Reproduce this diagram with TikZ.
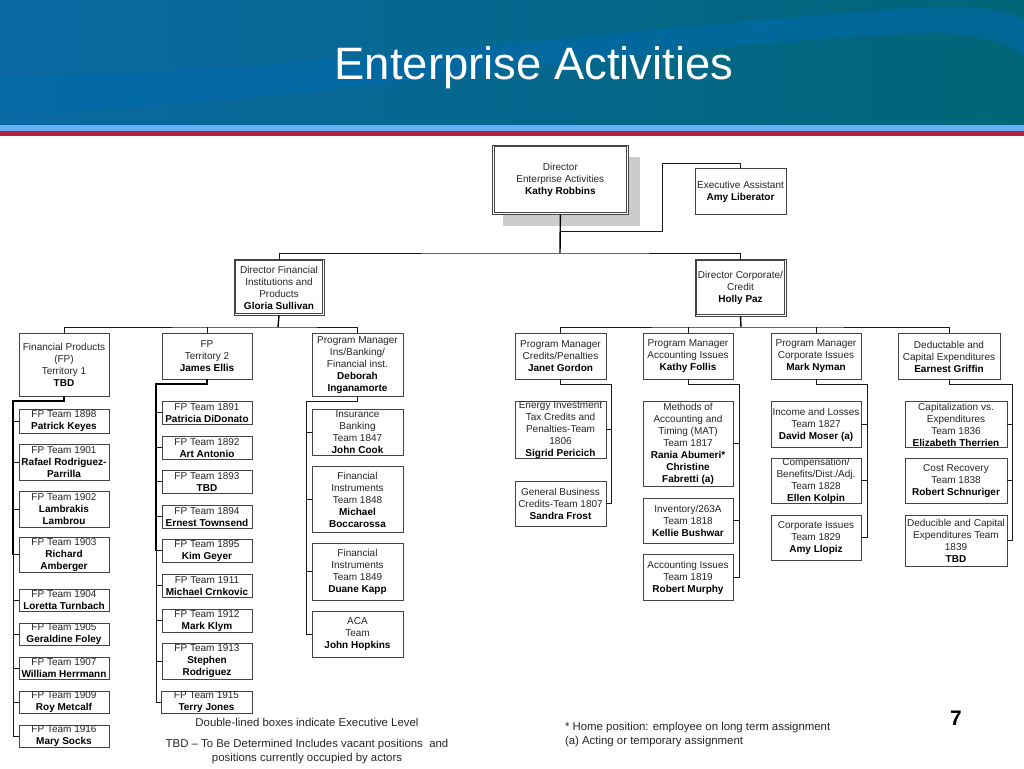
\documentclass[tikz,border=0pt]{standalone}
\usepackage{fontspec}
\setmainfont{Liberation Sans}
\definecolor{swoosh}{HTML}{0069AB}
\definecolor{bandl}{HTML}{0A69A3}
\definecolor{bandr}{HTML}{006677}
\definecolor{lightband}{HTML}{66AEF6}
\definecolor{redband}{HTML}{B4233C}
\definecolor{ink}{HTML}{262626}
\definecolor{frame}{HTML}{444444}
\definecolor{shadowgray}{HTML}{CCCCCC}
\tikzset{
  box/.style={draw=frame,line width=0.8pt,fill=white,inner sep=0pt,outer sep=0pt},
  txt/.style={font=\fontsize{10}{12}\selectfont,text=ink,align=center,inner sep=0pt,outer sep=0pt,yshift=-0.5pt},
  note/.style={font=\fontsize{11.4}{14}\selectfont,text=ink,inner sep=0pt,outer sep=0pt},
  wire/.style={draw=black!90,line width=0.9pt},
  trunk/.style={draw=black,line width=1.4pt},
  innerframe/.style={draw=frame,line width=0.7pt},
}
\newcommand{\bx}[7][box]{%
  \pgfmathsetmacro\ww{#5-#3}\pgfmathsetmacro\hh{#6-#4}%
  \node[#1,minimum width=\ww pt,minimum height=\hh pt,label={[txt]center:{#7}}] (#2) at ({(#3+#5)/2},{(#4+#6)/2}) {};}
\newcommand{\inset}[1]{\draw[innerframe] ([xshift=1.8pt,yshift=-1.8pt]#1.north west) rectangle ([xshift=-1.8pt,yshift=1.8pt]#1.south east);}
\newcommand{\nm}[1]{\textbf{\textcolor{black}{#1}}}
\begin{document}
\begin{tikzpicture}[x=1pt,y=-1pt]
\useasboundingbox (0,0) rectangle (1024,768);
% banner
\shade[left color=bandl,right color=bandr] (0,0) rectangle (1024,125);
\fill[swoosh,opacity=.6] (0,78) .. controls (300,72) and (650,25) .. (915,8)
   .. controls (975,5) and (1010,10) .. (1024,20) -- (1024,57)
   .. controls (1005,38) and (960,31) .. (915,33)
   .. controls (650,45) and (300,105) .. (0,113) -- cycle;
\fill[lightband] (0,125) rectangle (1024,131);
\fill[redband] (0,131) rectangle (1024,136);
\node[anchor=base,text=white,font=\fontsize{45.4}{50}\selectfont,inner sep=0pt] (title) at (534,79) {Enterprise Activities};

% top level
\fill[shadowgray] (503,157) rectangle (640,226);
\bx{dir}{492.7}{145}{628}{214.5}{Director\\Enterprise Activities\\\nm{Kathy Robbins}}
\inset{dir}
\bx{exec}{695}{168}{786}{214}{Executive Assistant\\\nm{Amy Liberator}}
\bx{dfin}{234}{259}{324}{315.5}{Director Financial\\Institutions and\\Products\\\nm{Gloria Sullivan}}
\inset{dfin}
\bx{dcorp}{695}{259}{786}{316}{Director Corporate/\\Credit\\\nm{Holly Paz}}
\inset{dcorp}

% second level
\bx{fp1}{19}{333}{109}{396}{Financial Products\\(FP)\\Territory 1\\\nm{TBD}}
\bx{fp2}{162}{333}{252}{379}{FP\\Territory 2\\\nm{James Ellis}}
\bx{pmins}{312}{333}{403}{396}{Program Manager\\Ins/Banking/\\Financial inst.\\\nm{Deborah}\\\nm{Inganamorte}}
\bx{pmcr}{515}{333}{606}{379}{Program Manager\\Credits/Penalties\\\nm{Janet Gordon}}
\bx{pmac}{643}{333}{733}{379}{Program Manager\\Accounting Issues\\\nm{Kathy Follis}}
\bx{pmco}{771}{333}{861}{379}{Program Manager\\Corporate Issues\\\nm{Mark Nyman}}
\bx{ded}{898}{333}{1000}{379}{Deductable and\\Capital Expenditures\\\nm{Earnest Griffin}}

% column 1
\bx{t1898}{19}{409}{109}{433}{FP Team 1898\\\nm{Patrick Keyes}}
\bx{t1901}{19}{444}{109}{480}{FP Team 1901\\\nm{Rafael Rodriguez-}\\\nm{Parrilla}}
\bx{t1902}{19}{491}{109}{527}{FP Team 1902\\\nm{Lambrakis}\\\nm{Lambrou}}
\bx{t1903}{19}{537}{109}{572}{FP Team 1903\\\nm{Richard}\\\nm{Amberger}}
\bx{t1904}{19}{589}{109}{611}{FP Team 1904\\\nm{Loretta Turnbach}}
\bx{t1905}{19}{623}{109}{645}{FP Team 1905\\\nm{Geraldine Foley}}
\bx{t1907}{19}{657}{109}{679}{FP Team 1907\\\nm{William Herrmann}}
\bx{t1909}{19}{691}{109}{713}{FP Team 1909\\\nm{Roy Metcalf}}
\bx{t1916}{19}{725}{109}{747}{FP Team 1916\\\nm{Mary Socks}}

% column 2
\bx{t1891}{162}{401}{252}{424}{FP Team 1891\\\nm{Patricia DiDonato}}
\bx{t1892}{162}{436}{252}{459}{FP Team 1892\\\nm{Art Antonio}}
\bx{t1893}{162}{470}{252}{493}{FP Team 1893\\\nm{TBD}}
\bx{t1894}{162}{505}{252}{528}{FP Team 1894\\\nm{Ernest  Townsend}}
\bx{t1895}{162}{539}{252}{562}{FP Team 1895\\\nm{Kim Geyer}}
\bx{t1911}{162}{574}{252}{597}{FP Team 1911\\\nm{Michael Crnkovic}}
\bx{t1912}{162}{609}{252}{632}{FP Team 1912\\\nm{Mark Klym}}
\bx{t1913}{162}{643}{252}{679}{FP Team 1913\\\nm{Stephen}\\\nm{Rodriguez}}
\bx{t1915}{161}{691}{252}{713}{FP Team 1915\\\nm{Terry Jones}}

% column 3
\bx{t1847}{312}{409}{403}{455}{Insurance\\Banking\\Team 1847\\\nm{John Cook}}
\bx{t1848}{312}{466}{403}{532}{Financial\\Instruments\\Team 1848\\\nm{Michael}\\\nm{Boccarossa}}
\bx{t1849}{312}{543}{403}{600}{Financial\\Instruments\\Team 1849\\\nm{Duane Kapp}}
\bx{taca}{312}{611}{403}{657}{ACA\\Team\\\nm{John Hopkins}}

% column 4
\bx{t1806}{515}{401}{606}{458}{Energy Investment\\Tax Credits and\\Penalties-Team\\1806\\\nm{Sigrid Pericich}}
\bx{t1807}{515}{481}{606}{526}{General Business\\Credits-Team 1807\\\nm{Sandra Frost}}

% column 5
\bx{t1817}{643}{401}{733}{486}{Methods of\\Accounting and\\Timing (MAT)\\Team 1817\\\nm{Rania Abumeri*}\\\nm{Christine}\\\nm{Fabretti (a)}}
\bx{t1818}{643}{498}{733}{543}{Inventory/263A\\Team 1818\\\nm{Kellie Bushwar}}
\bx{t1819}{643}{554}{733}{600}{Accounting Issues\\Team 1819\\\nm{Robert Murphy}}

% column 6
\bx{t1827}{771}{401}{861}{447}{Income and Losses\\Team 1827\\\nm{David Moser (a)}}
\bx{t1828}{771}{458}{861}{503}{Compensation/\\Benefits/Dist./Adj.\\Team 1828\\\nm{Ellen Kolpin}}
\bx{t1829}{771}{515}{861}{560}{Corporate Issues\\Team 1829\\\nm{Amy Llopiz}}

% column 7
\bx{t1836}{905}{401}{1007}{447}{Capitalization vs.\\Expenditures\\Team 1836\\\nm{Elizabeth Therrien}}
\bx{t1838}{905}{458}{1007}{503}{Cost Recovery\\Team 1838\\\nm{Robert Schnuriger}}
\bx{t1839}{905}{515}{1007}{566}{Deducible and Capital\\Expenditures Team\\1839\\\nm{TBD}}

% upper connectors
\coordinate (mainbus) at (560,253);
\coordinate (leftbus) at (278,327);
\coordinate (rightbus) at (741,327);
\coordinate (execA) at (560,231);
\coordinate (execB) at (662,163);
\draw[trunk] (dir.south) -- (mainbus);
\draw[wire] (execA) -| (execB) -| (exec.north);
\draw[wire] (dfin.north) |- (mainbus) -| (dcorp.north);
\draw[trunk] (dfin.south) -- (leftbus);
\draw[trunk] (dcorp.south) -- (rightbus);
\draw[wire] (fp1.north) |- (leftbus) -| (pmins.north);
\draw[wire] (fp2.north) -- (fp2.north |- leftbus);
\draw[wire] (pmcr.north) |- (rightbus) -| (ded.north);
\draw[wire] (pmac.north) -- (pmac.north |- rightbus);
\draw[wire] (pmco.north) -- (pmco.north |- rightbus);

% column spines
\coordinate (s1) at (13,401);
\draw[trunk] (fp1.south) |- (s1) -- (s1 |- t1903.west);
\draw[wire] (s1 |- t1903.west) |- (t1916.west);
\foreach \k in {t1898,t1901,t1902,t1903,t1904,t1905,t1907,t1909}
  \draw[wire] (\k.west) -- (\k.west -| s1);

\coordinate (s2) at (156,384);
\draw[trunk] (fp2.south) |- (s2) -- (s2 |- t1895.west);
\draw[wire] (s2 |- t1895.west) -- (s2 |- t1915.west) -- (t1915.west);
\foreach \k in {t1891,t1892,t1893,t1894,t1895,t1911,t1912,t1913}
  \draw[wire] (\k.west) -- (\k.west -| s2);

\coordinate (s3) at (306.5,401);
\draw[wire] (pmins.south) |- (s3) |- (taca.west);
\foreach \k in {t1847,t1848,t1849}
  \draw[wire] (\k.west) -- (\k.west -| s3);

\coordinate (s4) at (611,384);
\draw[wire] (pmcr.south) |- (s4) |- (t1807.east);
\draw[wire] (t1806.east) -- (t1806.east -| s4);

\coordinate (s5) at (739,384);
\draw[wire] (pmac.south) |- (s5) |- (t1819.east);
\foreach \k in {t1817,t1818}
  \draw[wire] (\k.east) -- (\k.east -| s5);

\coordinate (s6) at (867,384);
\draw[wire] (pmco.south) |- (s6) |- (t1829.east);
\foreach \k in {t1827,t1828}
  \draw[wire] (\k.east) -- (\k.east -| s6);

\coordinate (s7) at (1012,384);
\draw[wire] (ded.south) |- (s7) |- (t1839.east);
\foreach \k in {t1836,t1838}
  \draw[wire] (\k.east) -- (\k.east -| s7);

% notes
\node[note,anchor=base] (n1) at (307,726) {Double-lined boxes indicate Executive Level};
\node[note,anchor=base] (n2) at (307,747) {TBD – To Be Determined Includes vacant positions \ and};
\node[note,anchor=base] (n3) at (307,761) {positions currently occupied by actors};
\node[note,anchor=base west] (n4) at (565,730) {* Home position: employee on long term assignment};
\node[note,anchor=base west] (n5) at (565,744) {(a) Acting or temporary assignment};
\node[anchor=base,inner sep=0pt,font=\fontsize{21}{24}\selectfont\bfseries] (pg) at (956,725) {7};
\end{tikzpicture}
\end{document}
